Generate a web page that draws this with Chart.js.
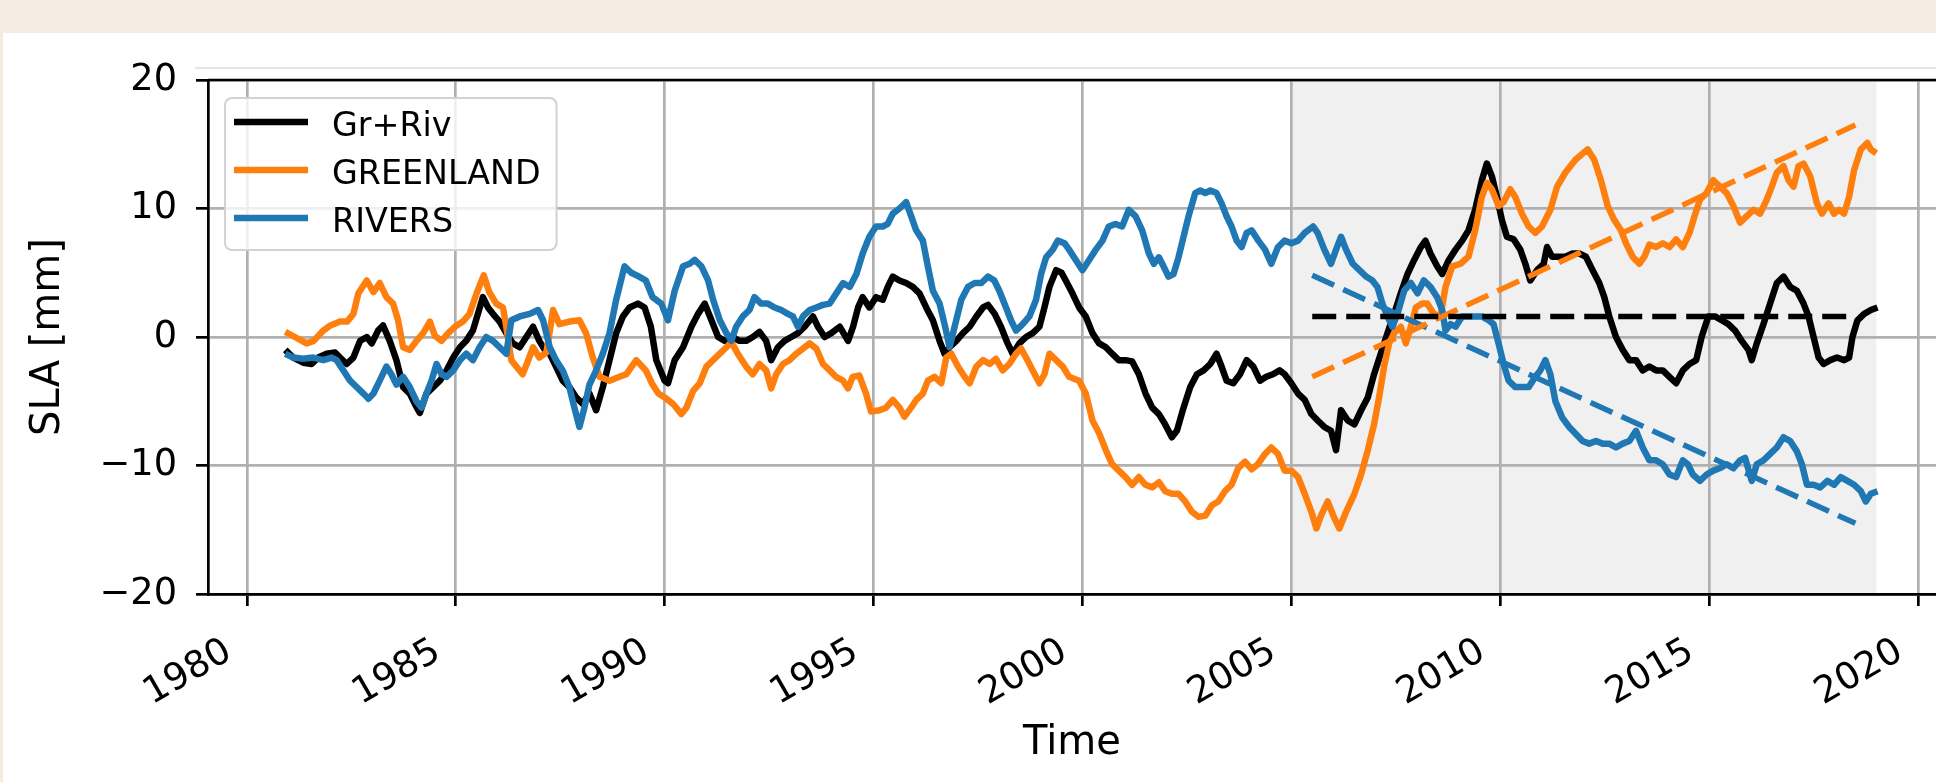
<!DOCTYPE html>
<html>
<head>
<meta charset="utf-8">
<script src="https://cdn.jsdelivr.net/npm/chart.js@4.4.1/dist/chart.umd.min.js"></script>
<style>
  html, body { margin: 0; padding: 0; background: #f5ece1; overflow: hidden; }
  canvas { display: block; }
</style>
</head>
<body>
<canvas id="sla" width="1936" height="782"></canvas>
<script>
// Sea level anomaly contributions (mm), decimal years
const grTime = [
  1980.92, 1981.11, 1981.35, 1981.55, 1981.71, 1981.91, 1982.11, 1982.23, 1982.39, 1982.55,
  1982.71, 1982.87, 1982.99, 1983.14, 1983.26, 1983.42, 1983.58, 1983.74, 1983.90, 1984.02,
  1984.14, 1984.30, 1984.46, 1984.62, 1984.78, 1984.94, 1985.10, 1985.25, 1985.41, 1985.53,
  1985.65, 1985.77, 1985.89, 1986.05, 1986.21, 1986.37, 1986.53, 1986.69, 1986.85, 1987.00,
  1987.13, 1987.25, 1987.40, 1987.56, 1987.72, 1987.88, 1988.04, 1988.20, 1988.36, 1988.52,
  1988.68, 1988.84, 1989.00, 1989.16, 1989.36, 1989.52, 1989.67, 1989.80, 1990.00, 1990.08,
  1990.24, 1990.44, 1990.64, 1990.80, 1990.96, 1991.12, 1991.28, 1991.44, 1991.63, 1991.79,
  1991.95, 1992.11, 1992.27, 1992.43, 1992.55, 1992.71, 1992.87, 1993.03, 1993.19, 1993.35,
  1993.55, 1993.67, 1993.83, 1993.99, 1994.19, 1994.39, 1994.51, 1994.63, 1994.74, 1994.90,
  1995.06, 1995.22, 1995.34, 1995.46, 1995.62, 1995.78, 1995.94, 1996.10, 1996.26, 1996.42,
  1996.58, 1996.70, 1996.82, 1996.98, 1997.14, 1997.30, 1997.46, 1997.62, 1997.74, 1997.90,
  1998.05, 1998.21, 1998.33, 1998.49, 1998.65, 1998.81, 1998.97, 1999.09, 1999.21, 1999.37,
  1999.50, 1999.60, 1999.76, 1999.92, 2000.08, 2000.24, 2000.40, 2000.56, 2000.71, 2000.87,
  2001.03, 2001.19, 2001.35, 2001.51, 2001.67, 2001.83, 2001.98, 2002.14, 2002.26, 2002.42,
  2002.58, 2002.74, 2002.90, 2003.06, 2003.21, 2003.33, 2003.45, 2003.61, 2003.77, 2003.93,
  2004.09, 2004.25, 2004.40, 2004.56, 2004.72, 2004.84, 2005.00, 2005.16, 2005.32, 2005.48,
  2005.63, 2005.79, 2005.95, 2006.07, 2006.19, 2006.35, 2006.51, 2006.67, 2006.83, 2006.98,
  2007.14, 2007.30, 2007.46, 2007.62, 2007.78, 2007.94, 2008.10, 2008.21, 2008.33, 2008.49,
  2008.61, 2008.77, 2008.93, 2009.09, 2009.24, 2009.40, 2009.56, 2009.68, 2009.80, 2009.92,
  2010.04, 2010.16, 2010.32, 2010.48, 2010.60, 2010.72, 2010.88, 2011.04, 2011.12, 2011.24,
  2011.40, 2011.56, 2011.73, 2011.89, 2012.05, 2012.21, 2012.37, 2012.49, 2012.61, 2012.77,
  2012.93, 2013.09, 2013.25, 2013.41, 2013.57, 2013.73, 2013.89, 2014.05, 2014.21, 2014.37,
  2014.53, 2014.69, 2014.82, 2014.98, 2015.14, 2015.30, 2015.46, 2015.62, 2015.78, 2015.94,
  2016.02, 2016.14, 2016.30, 2016.46, 2016.62, 2016.78, 2016.94, 2017.10, 2017.26, 2017.38,
  2017.50, 2017.62, 2017.74, 2017.90, 2018.06, 2018.23, 2018.35, 2018.43, 2018.55, 2018.71,
  2018.87, 2019.03
];
const grValues = [
  -1.0, -1.6, -2.0, -2.1, -1.6, -1.3, -1.2, -1.6, -2.1, -1.6,
  -0.3, 0.0, -0.5, 0.5, 0.9, -0.3, -1.8, -3.9, -4.4, -5.2,
  -5.9, -4.4, -3.9, -3.4, -2.6, -1.6, -0.8, -0.3, 0.5, 1.8,
  3.1, 2.3, 1.8, 1.2, 0.3, -0.5, -0.8, 0.0, 0.8, -0.3,
  -1.0, -1.3, -2.3, -3.4, -3.9, -4.7, -5.2, -4.4, -5.7, -3.9,
  -1.8, 0.3, 1.6, 2.3, 2.6, 2.3, 0.8, -1.8, -3.4, -3.6,
  -1.8, -0.8, 0.8, 1.8, 2.6, 1.3, 0.0, -0.3, 0.0, -0.3,
  -0.3, 0.0, 0.4, -0.3, -1.8, -0.8, -0.3, 0.0, 0.3, 0.8,
  1.6, 0.8, 0.0, 0.3, 0.8, -0.3, 0.8, 2.3, 3.1, 2.3,
  3.1, 2.9, 3.9, 4.7, 4.4, 4.2, 3.9, 3.4, 2.3, 1.3,
  -0.3, -1.3, -0.8, -0.3, 0.3, 0.8, 1.6, 2.3, 2.5, 1.8,
  0.8, -0.5, -1.3, -0.5, 0.0, 0.3, 0.8, 2.3, 3.9, 5.2,
  5.0, 4.4, 3.4, 2.3, 1.6, 0.3, -0.5, -0.8, -1.3, -1.8,
  -1.8, -1.9, -2.9, -4.4, -5.5, -6.0, -6.8, -7.8, -7.3, -5.5,
  -3.9, -2.9, -2.6, -2.1, -1.3, -2.3, -3.4, -3.6, -2.9, -1.8,
  -2.3, -3.4, -3.1, -2.9, -2.6, -2.9, -3.6, -4.4, -4.9, -6.0,
  -6.5, -7.0, -7.3, -8.8, -5.7, -6.5, -6.8, -5.7, -4.7, -2.9,
  -1.3, 0.3, 1.8, 3.4, 4.9, 6.0, 7.0, 7.5, 6.5, 5.5,
  4.9, 6.0, 6.8, 7.5, 8.3, 9.9, 12.2, 13.5, 12.5, 10.9,
  9.1, 7.8, 7.6, 6.8, 5.7, 4.4, 5.2, 5.7, 7.0, 6.25,
  6.25, 6.25, 6.5, 6.5, 6.25, 5.2, 4.2, 3.1, 1.6, 0.0,
  -1.0, -1.8, -1.8, -2.6, -2.3, -2.6, -2.6, -3.1, -3.6, -2.6,
  -2.1, -1.8, 0.0, 1.6, 1.6, 1.3, 1.0, 0.5, -0.3, -1.0,
  -1.8, -0.5, 1.0, 2.6, 4.2, 4.7, 3.9, 3.6, 2.6, 1.6,
  0.0, -1.6, -2.1, -1.8, -1.6, -1.8, -1.6, 0.0, 1.3, 1.8,
  2.1, 2.3
];

const glTime = [
  1980.92, 1981.15, 1981.43, 1981.60, 1981.83, 1982.00, 1982.23, 1982.40, 1982.55, 1982.67,
  1982.87, 1983.03, 1983.18, 1983.34, 1983.50, 1983.62, 1983.74, 1983.90, 1984.06, 1984.22,
  1984.38, 1984.50, 1984.66, 1984.82, 1984.98, 1985.17, 1985.33, 1985.50, 1985.67, 1985.80,
  1985.97, 1986.13, 1986.20, 1986.33, 1986.45, 1986.60, 1986.70, 1986.85, 1987.00, 1987.17,
  1987.33, 1987.48, 1987.72, 1987.96, 1988.12, 1988.28, 1988.44, 1988.68, 1988.92, 1989.08,
  1989.32, 1989.55, 1989.71, 1989.85, 1990.00, 1990.20, 1990.40, 1990.52, 1990.68, 1990.84,
  1991.00, 1991.16, 1991.32, 1991.48, 1991.60, 1991.75, 1991.95, 1992.11, 1992.27, 1992.43,
  1992.55, 1992.67, 1992.83, 1992.99, 1993.15, 1993.31, 1993.47, 1993.63, 1993.79, 1993.95,
  1994.10, 1994.27, 1994.39, 1994.50, 1994.66, 1994.82, 1994.94, 1995.14, 1995.30, 1995.46,
  1995.62, 1995.74, 1995.90, 1996.02, 1996.18, 1996.30, 1996.46, 1996.62, 1996.74, 1996.86,
  1997.02, 1997.18, 1997.30, 1997.46, 1997.62, 1997.78, 1997.93, 1998.09, 1998.25, 1998.41,
  1998.53, 1998.65, 1998.81, 1998.97, 1999.09, 1999.21, 1999.37, 1999.53, 1999.68, 1999.92,
  2000.08, 2000.24, 2000.40, 2000.56, 2000.71, 2000.87, 2001.03, 2001.19, 2001.35, 2001.51,
  2001.67, 2001.83, 2001.98, 2002.14, 2002.30, 2002.46, 2002.62, 2002.78, 2002.94, 2003.10,
  2003.25, 2003.41, 2003.57, 2003.73, 2003.89, 2004.05, 2004.20, 2004.37, 2004.52, 2004.68,
  2004.84, 2005.00, 2005.16, 2005.32, 2005.48, 2005.60, 2005.71, 2005.87, 2006.03, 2006.15,
  2006.31, 2006.51, 2006.67, 2006.83, 2006.98, 2007.10, 2007.22, 2007.34, 2007.46, 2007.62,
  2007.74, 2007.86, 2007.98, 2008.13, 2008.25, 2008.41, 2008.57, 2008.69, 2008.85, 2009.05,
  2009.24, 2009.40, 2009.56, 2009.68, 2009.80, 2009.96, 2010.08, 2010.24, 2010.36, 2010.52,
  2010.68, 2010.84, 2011.00, 2011.20, 2011.36, 2011.56, 2011.80, 2012.09, 2012.25, 2012.41,
  2012.57, 2012.73, 2012.89, 2013.01, 2013.17, 2013.33, 2013.45, 2013.57, 2013.73, 2013.89,
  2014.05, 2014.21, 2014.37, 2014.53, 2014.65, 2014.78, 2014.94, 2015.10, 2015.26, 2015.42,
  2015.58, 2015.74, 2015.90, 2016.06, 2016.22, 2016.38, 2016.50, 2016.62, 2016.78, 2016.90,
  2017.02, 2017.14, 2017.26, 2017.42, 2017.58, 2017.70, 2017.86, 2017.99, 2018.11, 2018.23,
  2018.35, 2018.47, 2018.63, 2018.79, 2018.87, 2019.00
];
const glValues = [
  0.4, 0.0, -0.5, -0.3, 0.5, 0.9, 1.2, 1.2, 1.8, 3.4,
  4.4, 3.5, 4.2, 3.1, 2.6, 1.3, -0.8, -1.0, -0.3, 0.3,
  1.2, 0.1, -0.3, 0.3, 0.8, 1.2, 1.8, 3.4, 4.8, 3.5,
  2.6, 2.3, 1.0, -1.8, -2.3, -2.9, -2.1, -0.8, -1.6, -1.2,
  2.1, 1.0, 1.2, 1.3, 0.3, -1.6, -3.1, -3.4, -3.1, -2.9,
  -1.8, -2.6, -3.7, -4.4, -4.7, -5.2, -6.0, -5.5, -4.2, -3.6,
  -2.3, -1.8, -1.3, -0.8, -0.4, -1.3, -2.3, -2.9, -2.1, -2.6,
  -4.0, -2.9, -2.1, -1.8, -1.3, -0.9, -0.5, -0.9, -2.1, -2.6,
  -3.1, -3.4, -4.0, -3.1, -3.0, -4.4, -5.8, -5.7, -5.5, -4.9,
  -5.5, -6.2, -5.5, -4.9, -4.4, -3.4, -3.1, -3.6, -1.6, -1.3,
  -2.3, -3.1, -3.6, -2.3, -1.8, -2.1, -1.7, -2.6, -2.1, -1.3,
  -0.9, -1.6, -2.6, -3.6, -2.9, -1.3, -1.8, -2.3, -3.1, -3.4,
  -4.4, -6.5, -7.5, -8.8, -9.9, -10.4, -10.9, -11.5, -10.9, -11.5,
  -11.7, -11.3, -12.0, -12.2, -12.2, -12.8, -13.6, -14.0, -13.9, -13.1,
  -12.8, -12.0, -11.5, -10.2, -9.7, -10.3, -9.9, -9.1, -8.6, -9.1,
  -10.4, -10.4, -10.9, -12.2, -13.6, -14.9, -13.9, -12.8, -14.1, -14.9,
  -13.6, -12.2, -10.7, -8.8, -6.8, -4.7, -2.3, -0.5, 0.3, 0.8,
  -0.5, 0.8, 2.3, 2.6, 2.6, 1.8, 1.6, 3.9, 5.5, 5.7,
  6.25, 8.3, 10.9, 12.0, 11.5, 10.2, 10.5, 11.5, 10.9, 9.6,
  8.6, 8.1, 8.6, 9.9, 11.7, 12.8, 13.8, 14.6, 13.8, 12.2,
  10.2, 9.1, 8.3, 7.3, 6.25, 5.7, 6.25, 7.2, 7.0, 7.3,
  7.0, 7.6, 7.0, 8.1, 9.4, 10.7, 11.2, 12.2, 11.7, 11.2,
  10.2, 8.9, 9.4, 9.9, 9.6, 10.7, 11.7, 12.8, 13.3, 12.2,
  11.7, 13.3, 13.5, 12.5, 10.4, 9.6, 10.4, 9.6, 9.9, 9.6,
  10.9, 13.0, 14.6, 15.1, 14.6, 14.3
];

const rvTime = [
  1980.92, 1981.11, 1981.35, 1981.59, 1981.83, 1982.03, 1982.15, 1982.31, 1982.47, 1982.63,
  1982.79, 1982.91, 1983.03, 1983.18, 1983.34, 1983.46, 1983.58, 1983.74, 1983.90, 1984.06,
  1984.18, 1984.30, 1984.42, 1984.54, 1984.66, 1984.78, 1984.94, 1985.10, 1985.25, 1985.41,
  1985.57, 1985.73, 1985.89, 1986.05, 1986.21, 1986.33, 1986.53, 1986.77, 1986.97, 1987.09,
  1987.25, 1987.40, 1987.56, 1987.72, 1987.84, 1987.96, 1988.08, 1988.20, 1988.36, 1988.52,
  1988.68, 1988.84, 1989.04, 1989.20, 1989.39, 1989.55, 1989.71, 1989.92, 1990.08, 1990.24,
  1990.44, 1990.60, 1990.72, 1990.88, 1991.04, 1991.16, 1991.32, 1991.48, 1991.60, 1991.71,
  1991.87, 1992.03, 1992.15, 1992.31, 1992.47, 1992.63, 1992.79, 1992.95, 1993.07, 1993.19,
  1993.31, 1993.47, 1993.63, 1993.79, 1993.95, 1994.11, 1994.27, 1994.43, 1994.59, 1994.74,
  1994.90, 1995.06, 1995.22, 1995.34, 1995.46, 1995.62, 1995.78, 1995.90, 1996.02, 1996.18,
  1996.30, 1996.42, 1996.58, 1996.70, 1996.82, 1996.94, 1997.10, 1997.26, 1997.42, 1997.58,
  1997.74, 1997.89, 1998.01, 1998.17, 1998.29, 1998.41, 1998.57, 1998.73, 1998.89, 1999.01,
  1999.13, 1999.29, 1999.41, 1999.57, 1999.68, 1999.84, 2000.00, 2000.16, 2000.32, 2000.48,
  2000.63, 2000.79, 2000.95, 2001.11, 2001.27, 2001.43, 2001.59, 2001.71, 2001.83, 2001.94,
  2002.06, 2002.18, 2002.30, 2002.42, 2002.54, 2002.70, 2002.82, 2002.94, 2003.06, 2003.21,
  2003.33, 2003.45, 2003.57, 2003.69, 2003.81, 2003.93, 2004.05, 2004.21, 2004.37, 2004.52,
  2004.68, 2004.84, 2005.00, 2005.16, 2005.32, 2005.52, 2005.63, 2005.79, 2005.95, 2006.07,
  2006.19, 2006.31, 2006.47, 2006.63, 2006.79, 2006.94, 2007.06, 2007.18, 2007.30, 2007.42,
  2007.54, 2007.70, 2007.86, 2008.02, 2008.17, 2008.33, 2008.49, 2008.61, 2008.69, 2008.81,
  2008.93, 2009.09, 2009.24, 2009.40, 2009.56, 2009.72, 2009.84, 2009.96, 2010.08, 2010.20,
  2010.36, 2010.52, 2010.68, 2010.84, 2010.96, 2011.08, 2011.20, 2011.32, 2011.48, 2011.65,
  2011.81, 2011.97, 2012.13, 2012.29, 2012.45, 2012.61, 2012.77, 2012.93, 2013.09, 2013.25,
  2013.41, 2013.57, 2013.73, 2013.89, 2014.05, 2014.21, 2014.37, 2014.49, 2014.61, 2014.78,
  2014.94, 2015.10, 2015.26, 2015.42, 2015.58, 2015.74, 2015.86, 2016.02, 2016.14, 2016.30,
  2016.46, 2016.62, 2016.78, 2016.94, 2017.10, 2017.22, 2017.34, 2017.50, 2017.66, 2017.83,
  2017.99, 2018.15, 2018.31, 2018.47, 2018.63, 2018.75, 2018.87, 2019.03
];
const rvValues = [
  -1.3, -1.6, -1.7, -1.6, -1.8, -1.6, -1.8, -2.6, -3.4, -3.9,
  -4.4, -4.8, -4.4, -3.4, -2.3, -2.9, -3.7, -3.1, -3.9, -5.0,
  -5.5, -4.4, -3.4, -2.1, -2.9, -3.1, -2.6, -1.8, -1.3, -1.8,
  -0.8, 0.0, -0.3, -0.8, -1.3, 1.3, 1.6, 1.8, 2.1, 1.3,
  -0.8, -1.8, -2.6, -3.9, -5.5, -7.0, -5.5, -3.7, -2.6, -1.3,
  0.3, 2.9, 5.5, 5.0, 4.7, 4.4, 3.1, 2.6, 1.3, 3.6,
  5.5, 5.7, 6.0, 5.5, 4.4, 2.9, 1.3, 0.3, -0.3, 0.8,
  1.6, 2.1, 3.1, 2.6, 2.6, 2.3, 2.1, 1.8, 1.6, 0.8,
  1.6, 2.1, 2.3, 2.5, 2.6, 3.4, 4.2, 3.9, 4.9, 6.5,
  7.8, 8.6, 8.6, 8.8, 9.6, 10.0, 10.5, 9.4, 8.3, 7.5,
  5.5, 3.6, 2.6, 1.0, -0.8, 0.8, 2.9, 3.9, 4.2, 4.2,
  4.7, 4.4, 3.6, 2.3, 1.3, 0.5, 1.0, 1.6, 2.9, 4.9,
  6.2, 6.8, 7.5, 7.3, 6.8, 6.0, 5.2, 6.0, 6.8, 7.5,
  8.6, 8.8, 8.6, 9.9, 9.4, 8.3, 6.5, 5.7, 6.2, 5.5,
  4.7, 4.9, 6.2, 7.8, 9.4, 11.2, 11.4, 11.2, 11.4, 11.2,
  10.4, 9.4, 8.6, 7.5, 7.0, 8.1, 8.3, 7.5, 6.8, 5.7,
  7.0, 7.5, 7.3, 7.5, 8.1, 8.6, 8.1, 6.8, 5.7, 6.8,
  7.8, 6.8, 5.7, 5.2, 4.7, 4.4, 3.9, 2.6, 1.6, 0.8,
  1.8, 3.6, 4.2, 3.4, 4.4, 3.9, 3.1, 2.1, 0.5, 1.0,
  0.8, 1.6, 1.6, 1.6, 1.6, 1.3, 1.0, -0.5, -2.1, -3.4,
  -3.9, -3.9, -3.9, -3.1, -2.6, -1.8, -2.9, -5.0, -6.25, -7.0,
  -7.55, -8.1, -8.3, -8.1, -8.3, -8.3, -8.6, -8.3, -8.1, -7.3,
  -8.6, -9.6, -9.6, -9.9, -10.7, -10.9, -9.6, -9.9, -10.7, -11.2,
  -10.7, -10.4, -10.2, -9.9, -10.2, -9.6, -9.4, -11.2, -9.9, -9.6,
  -9.1, -8.6, -7.8, -8.1, -8.9, -9.9, -11.5, -11.5, -11.7, -11.2,
  -11.5, -10.9, -11.2, -11.5, -12.0, -12.8, -12.2, -12.0
];

// Linear fits over the recent period
const trendTime = [2005.5, 2018.5];
const grTrend = [1.6, 1.6];
const glTrend = [-3.1, 16.5];
const rvTrend = [4.8, -14.5];

// Highlighted period and axis ticks
const shadeSpan = [2005, 2019];
const xRange = [1979.07, 2020.43];
const xTickValues = [1980, 1985, 1990, 1995, 2000, 2005, 2010, 2015, 2020];
const yTickValues = [-20, -10, 0, 10, 20];
const legendLabels = ['Gr+Riv', 'GREENLAND', 'RIVERS'];

const FONT = 'DejaVu Sans';
const LINE_W = 6.5;
const toPoints = (t, v) => t.map((x, i) => ({ x, y: v[i] }));

const series = (label, t, v, color, order) => ({
  label, data: toPoints(t, v), borderColor: color, backgroundColor: color,
  borderWidth: LINE_W, pointRadius: 0, tension: 0, fill: false,
  borderJoinStyle: 'round', order
});
const trend = (label, v, color) => ({
  label, data: toPoints(trendTime, v), borderColor: color, backgroundColor: color,
  borderWidth: LINE_W - 1, borderDash: [24, 10], pointRadius: 0, fill: false, order: 0
});

const backdrop = {
  id: 'backdrop',
  beforeDraw(chart) {
    const { ctx, chartArea: ca, scales: { x } } = chart;
    ctx.save();
    ctx.fillStyle = '#f5ece1';
    ctx.fillRect(0, 0, chart.width, chart.height);
    ctx.fillStyle = '#ffffff';
    ctx.fillRect(3, 33, chart.width - 3, chart.height - 33);
    const x0 = x.getPixelForValue(shadeSpan[0]);
    const x1 = x.getPixelForValue(shadeSpan[1]);
    ctx.fillStyle = '#f0f0f0';
    ctx.fillRect(x0, ca.top, x1 - x0, ca.bottom - ca.top);
    ctx.restore();
  },
  afterDraw(chart) {
    const { ctx, chartArea: ca } = chart;
    ctx.save();
    // faint rule above the frame
    ctx.strokeStyle = '#e4e4e4';
    ctx.lineWidth = 2;
    ctx.beginPath();
    ctx.moveTo(ca.left - 13, ca.top - 12);
    ctx.lineTo(ca.right, ca.top - 12);
    ctx.stroke();
    // top spine
    ctx.strokeStyle = '#000';
    ctx.lineWidth = 2.7;
    ctx.beginPath();
    ctx.moveTo(ca.left, ca.top);
    ctx.lineTo(ca.right, ca.top);
    ctx.stroke();
    ctx.restore();
  }
};

const boxLegend = {
  id: 'boxLegend',
  afterDraw(chart) {
    const { ctx, chartArea: ca } = chart;
    const items = legendLabels.map(l => chart.data.datasets.find(d => d.label === l));
    ctx.save();
    ctx.font = `33.3px "${FONT}"`;
    const left = ca.left + 17, top = ca.top + 18;
    const textX = left + 107;
    const maxW = Math.max(...items.map(d => ctx.measureText(d.label).width));
    const w = textX + maxW + 16 - left, h = 152, r = 7;
    ctx.beginPath();
    ctx.moveTo(left + r, top);
    ctx.lineTo(left + w - r, top);
    ctx.arcTo(left + w, top, left + w, top + r, r);
    ctx.lineTo(left + w, top + h - r);
    ctx.arcTo(left + w, top + h, left + w - r, top + h, r);
    ctx.lineTo(left + r, top + h);
    ctx.arcTo(left, top + h, left, top + h - r, r);
    ctx.lineTo(left, top + r);
    ctx.arcTo(left, top, left + r, top, r);
    ctx.closePath();
    ctx.fillStyle = 'rgba(255,255,255,0.8)';
    ctx.fill();
    ctx.strokeStyle = '#d2d2d2';
    ctx.lineWidth = 2;
    ctx.stroke();
    items.forEach((d, i) => {
      const y = top + 24 + i * 48;
      ctx.beginPath();
      ctx.moveTo(left + 9, y);
      ctx.lineTo(left + 83, y);
      ctx.strokeStyle = d.borderColor;
      ctx.lineWidth = d.borderWidth;
      ctx.lineCap = 'butt';
      ctx.stroke();
      ctx.fillStyle = '#000';
      ctx.textBaseline = 'alphabetic';
      ctx.textAlign = 'left';
      ctx.fillText(d.label, textX, y + 13.5);
    });
    ctx.restore();
  }
};

new Chart(document.getElementById('sla'), {
  type: 'line',
  data: {
    datasets: [
      series('Gr+Riv', grTime, grValues, '#000000', 5),
      series('GREENLAND', glTime, glValues, '#ff7f0e', 4),
      series('RIVERS', rvTime, rvValues, '#1f77b4', 3),
      trend('Gr+Riv fit', grTrend, '#000000'),
      trend('GREENLAND fit', glTrend, '#ff7f0e'),
      trend('RIVERS fit', rvTrend, '#1f77b4')
    ]
  },
  options: {
    responsive: false,
    animation: false,
    devicePixelRatio: 1,
    layout: { padding: { left: 0, top: 80, right: 0, bottom: 0 } },
    plugins: { legend: { display: false }, tooltip: { enabled: false } },
    scales: {
      x: {
        type: 'linear',
        min: xRange[0],
        max: xRange[1],
        afterBuildTicks: s => { s.ticks = xTickValues.map(value => ({ value })); },
        afterFit: s => { s.height = 188; s.paddingLeft = 0; s.paddingRight = 0; },
        ticks: {
          autoSkip: false, minRotation: 30, maxRotation: 30,
          padding: 24, labelOffset: -18, color: '#000',
          font: { family: FONT, size: 37 },
          callback: v => String(v)
        },
        grid: { color: '#b0b0b0', lineWidth: 2.7, tickLength: 12, tickColor: '#000', tickWidth: 2.7 },
        border: { color: '#000', width: 2.7 },
        title: {
          display: true, text: 'Time', color: '#000',
          font: { family: FONT, size: 40, lineHeight: 1 },
          padding: { top: 0, bottom: 18 }
        }
      },
      y: {
        min: yTickValues[0],
        max: yTickValues[yTickValues.length - 1],
        afterBuildTicks: s => { s.ticks = yTickValues.map(value => ({ value })); },
        afterFit: s => { s.width = 208; s.paddingTop = 0; s.paddingBottom = 0; },
        ticks: {
          padding: 19, color: '#000',
          font: { family: FONT, size: 36.7 },
          callback: v => (v < 0 ? '\u2212' + Math.abs(v) : String(v))
        },
        grid: { color: '#b0b0b0', lineWidth: 2.7, tickLength: 12, tickColor: '#000', tickWidth: 2.7 },
        border: { color: '#000', width: 2.7 },
        title: {
          display: true, text: 'SLA [mm]', color: '#000',
          font: { family: FONT, size: 40, lineHeight: 1 },
          padding: { top: 29, bottom: 0 }
        }
      }
    }
  },
  plugins: [backdrop, boxLegend]
});
</script>
</body>
</html>
